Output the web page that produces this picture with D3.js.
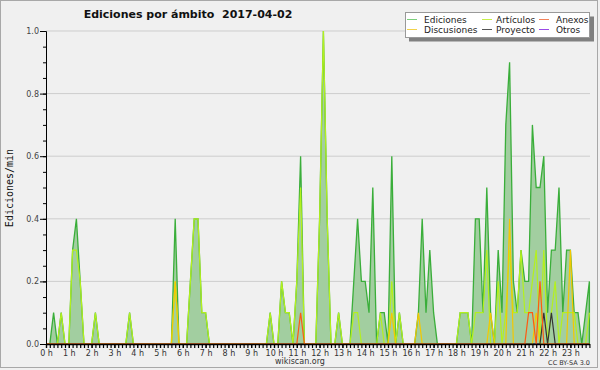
<!DOCTYPE html>
<html>
<head>
<meta charset="utf-8">
<script src="https://cdn.jsdelivr.net/npm/d3@7"></script>
<style>
  body { margin: 0; background: #f0f0f0; }
  svg { display: block; font-family: 'DejaVu Sans', sans-serif; }
</style>
</head>
<body>
<svg id="chart" width="600" height="370"></svg>
<script>
// one row per hour, six 10-minute bins each (edits/min)
const ediciones = [
  [0, 0, .1, 0, .1, 0], [0, .3, .4, .2, 0, 0], [0, .1, 0, 0, 0, 0], [0, 0, 0, 0, .1, 0],
  [0, 0, 0, 0, 0, 0], [0, 0, 0, 0, .4, 0], [0, 0, .2, .4, .4, .1], [.1, 0, 0, 0, 0, 0],
  [0, 0, 0, 0, 0, 0], [0, 0, 0, 0, 0, .1], [0, 0, .2, .1, .1, 0], [.2, .6, 0, 0, 0, 0],
  [.4, 1, .4, 0, 0, .1], [0, 0, 0, .2, .4, .2], [.2, .1, .5, 0, .1, .1], [0, .6, 0, .1, 0, 0],
  [0, 0, .1, .4, .1, .3], [.1, 0, 0, 0, 0, 0], [0, .1, .1, .1, 0, .4], [.4, .1, .5, .1, 0, .3],
  [.1, .7, .9, .2, .1, .3], [.2, .2, .7, .5, .5, .6], [.1, .3, .3, .5, .1, .3], [.3, .1, .1, 0, .1, .2]
].flat();

const articulos = [
  [0, 0, 0, 0, .1, 0], [0, .3, .3, .2, 0, 0], [0, .1, 0, 0, 0, 0], [0, 0, 0, 0, .1, 0],
  [0, 0, 0, 0, 0, 0], [0, 0, 0, 0, .2, 0], [0, 0, .2, .4, .4, .1], [.1, 0, 0, 0, 0, 0],
  [0, 0, 0, 0, 0, 0], [0, 0, 0, 0, 0, .1], [0, 0, .2, .1, .1, 0], [.2, .5, 0, 0, 0, 0],
  [.4, 1, .4, 0, 0, .1], [0, 0, 0, .1, .1, 0], [0, 0, 0, 0, .1, 0], [0, .2, 0, .1, 0, 0],
  [0, 0, 0, 0, 0, 0], [0, 0, 0, 0, 0, 0], [0, .1, .1, .1, 0, .1], [.1, .1, .3, 0, 0, .2],
  [0, .1, .3, .1, .1, .3], [.1, .1, .2, .3, 0, .3], [0, .1, .2, 0, .1, .1], [.1, .1, 0, 0, 0, .1]
].flat();

const discusiones = [
  [0, 0, 0, 0, 0, 0], [0, 0, 0, 0, 0, 0], [0, 0, 0, 0, 0, 0], [0, 0, 0, 0, 0, 0],
  [0, 0, 0, 0, 0, 0], [0, 0, 0, 0, .2, 0], [0, 0, 0, 0, 0, 0], [0, 0, 0, 0, 0, 0],
  [0, 0, 0, 0, 0, 0], [0, 0, 0, 0, 0, 0], [0, 0, 0, 0, 0, 0], [0, 0, 0, 0, 0, 0],
  [0, 0, 0, 0, 0, 0], [0, 0, 0, 0, 0, 0], [0, 0, 0, 0, 0, 0], [0, .1, 0, 0, 0, 0],
  [0, 0, .1, 0, 0, 0], [0, 0, 0, 0, 0, 0], [0, 0, 0, 0, 0, 0], [0, 0, 0, .1, 0, 0],
  [0, 0, .4, 0, 0, 0], [0, 0, 0, .1, 0, 0], [0, 0, 0, 0, 0, 0], [.3, 0, 0, 0, 0, 0]
].flat();

const anexos = [
  [0, 0, 0, 0, 0, 0], [0, 0, 0, 0, 0, 0], [0, 0, 0, 0, 0, 0], [0, 0, 0, 0, 0, 0],
  [0, 0, 0, 0, 0, 0], [0, 0, 0, 0, 0, 0], [0, 0, 0, 0, 0, 0], [0, 0, 0, 0, 0, 0],
  [0, 0, 0, 0, 0, 0], [0, 0, 0, 0, 0, 0], [0, 0, 0, 0, 0, 0], [0, .1, 0, 0, 0, 0],
  [0, 0, 0, 0, 0, 0], [0, 0, 0, 0, 0, 0], [0, 0, 0, 0, 0, 0], [0, 0, 0, 0, 0, 0],
  [0, 0, 0, 0, 0, 0], [0, 0, 0, 0, 0, 0], [0, 0, 0, 0, 0, 0], [0, 0, 0, 0, 0, 0],
  [0, 0, 0, 0, 0, 0], [0, .1, .1, 0, .2, 0], [0, 0, 0, 0, 0, 0], [0, 0, 0, 0, 0, 0]
].flat();

const proyecto = [
  [0, 0, 0, 0, 0, 0], [0, 0, 0, 0, 0, 0], [0, 0, 0, 0, 0, 0], [0, 0, 0, 0, 0, 0],
  [0, 0, 0, 0, 0, 0], [0, 0, 0, 0, 0, 0], [0, 0, 0, 0, 0, 0], [0, 0, 0, 0, 0, 0],
  [0, 0, 0, 0, 0, 0], [0, 0, 0, 0, 0, 0], [0, 0, 0, 0, 0, 0], [0, 0, 0, 0, 0, 0],
  [0, 0, 0, 0, 0, 0], [0, 0, 0, 0, 0, 0], [0, 0, 0, 0, 0, 0], [0, 0, 0, 0, 0, 0],
  [0, 0, 0, 0, 0, 0], [0, 0, 0, 0, 0, 0], [0, 0, 0, 0, 0, 0], [0, 0, 0, 0, 0, 0],
  [0, 0, 0, 0, 0, 0], [0, 0, 0, 0, 0, .1], [0, .1, 0, 0, 0, 0], [0, 0, 0, 0, 0, 0]
].flat();

const otros = d3.range(144).map(() => 0);

const hourLabels = d3.range(24).map(h => h + ' h');
const yTicks = [0, 0.2, 0.4, 0.6, 0.8, 1.0];

const legendItems = [
  { name: 'Ediciones', color: '#7ccf7c' },
  { name: 'Discusiones', color: '#f2d24a' },
  { name: 'Artículos', color: '#c6ee4a' },
  { name: 'Proyecto', color: '#555555' },
  { name: 'Anexos', color: '#f2825a' },
  { name: 'Otros', color: '#9a4ae6' }
];

const svg = d3.select('#chart');
const margin = { top: 31, right: 10, bottom: 26, left: 46 };
const height = 370 - margin.top - margin.bottom;

// x in 10-minute bins
const x = d3.scaleLinear().domain([0, 144]).range([margin.left, margin.left + 144 * 3.8]);
const y = d3.scaleLinear().domain([0, 1]).range([margin.top + height, margin.top]);

// frame
svg.append('rect').attr('x', 0.5).attr('y', 0.5).attr('width', 597).attr('height', 367)
  .attr('fill', '#f0f0f0').attr('stroke', '#a8a8a8');

// grid
svg.append('g').selectAll('line').data(yTicks.slice(1)).join('line')
  .attr('x1', x(0)).attr('x2', 590)
  .attr('y1', d => y(d)).attr('y2', d => y(d))
  .attr('stroke', '#cdcdcd').attr('stroke-width', 1);

// total area
const bins = d3.range(144);
svg.append('path')
  .datum(bins)
  .attr('fill', '#a2cea0')
  .attr('stroke', '#3aae3a')
  .attr('stroke-width', 1.3)
  .attr('d', d3.area().x(i => x(i)).y0(y(0)).y1(i => y(ediciones[i])));

const line = series => d3.line().x(i => x(i)).y(i => y(series[i]))(bins);

const lines = [
  { data: otros, color: '#9a3ae6' },
  { data: articulos, color: '#b4f01e' },
  { data: discusiones, color: '#f5c800' },
  { data: proyecto, color: '#333333' },
  { data: anexos, color: '#ff5a10' }
];
svg.append('g').selectAll('path').data(lines).join('path')
  .attr('fill', 'none')
  .attr('stroke', d => d.color)
  .attr('stroke-width', 1.2)
  .attr('d', d => line(d.data));

// y axis
const yAxis = svg.append('g').attr('transform', 'translate(' + margin.left + ',0)');
yAxis.call(d3.axisLeft(y).tickValues(d3.range(0, 1.001, 0.05)).tickSize(3).tickFormat('').tickSizeOuter(0));
yAxis.call(g => g.append('g').call(d3.axisLeft(y).tickValues(yTicks).tickSize(6).tickPadding(1)
  .tickFormat(d3.format('.1f')).tickSizeOuter(0)));
yAxis.selectAll('path.domain').attr('stroke', '#000');
yAxis.selectAll('line').attr('stroke', '#000');
yAxis.selectAll('text').attr('font-size', 8).attr('fill', '#444').attr('font-family', 'DejaVu Sans');

// x axis
const xAxis = svg.append('g').attr('transform', 'translate(0,' + y(0) + ')');
xAxis.call(d3.axisBottom(x).tickValues(bins).tickSize(4).tickFormat('').tickSizeOuter(0));
xAxis.select('path.domain').attr('d', 'M' + x(0) + ',0.5H590');
xAxis.call(g => g.append('g').call(d3.axisBottom(x).tickValues(d3.range(0, 144, 6)).tickSize(4).tickPadding(2)
  .tickFormat((d, i) => hourLabels[i]).tickSizeOuter(0)));
xAxis.selectAll('g > path.domain').filter((d, i) => i > 0).remove();
xAxis.selectAll('line').attr('stroke', '#000').attr('stroke-width', 1.2);
xAxis.selectAll('path.domain').attr('stroke', '#000').attr('stroke-width', 1.5);
xAxis.selectAll('text').attr('font-size', 8).attr('fill', '#333').attr('font-family', 'DejaVu Sans');

// titles
svg.append('text').attr('x', 188).attr('y', 18).attr('text-anchor', 'middle')
  .attr('font-size', 11).attr('font-weight', 'bold').attr('fill', '#111')
  .attr('xml:space', 'preserve')
  .text('Ediciones por ámbito  2017-04-02');

svg.append('text').attr('transform', 'translate(13,188) rotate(-90)').attr('text-anchor', 'middle')
  .attr('font-family', 'DejaVu Sans Mono').attr('font-size', 10).attr('fill', '#111')
  .text('Ediciones/min');

svg.append('text').attr('x', 300).attr('y', 364).attr('text-anchor', 'middle')
  .attr('font-size', 8).attr('fill', '#333').text('wikiscan.org');

svg.append('text').attr('x', 590).attr('y', 365).attr('text-anchor', 'end')
  .attr('font-size', 6.5).attr('fill', '#333').text('CC BY-SA 3.0');

// legend
const lg = svg.append('g');
lg.append('rect').attr('x', 409).attr('y', 16.5).attr('width', 185).attr('height', 25).attr('fill', '#808080');
lg.append('rect').attr('x', 405.5).attr('y', 12.5).attr('width', 184).attr('height', 25)
  .attr('fill', '#fff').attr('stroke', '#999');
const colX = [407, 482, 539];
const rowY = [19.5, 29.5];
const entry = lg.selectAll('g.item').data(legendItems).join('g')
  .attr('transform', (d, i) => 'translate(' + colX[Math.floor(i / 2)] + ',' + rowY[i % 2] + ')');
entry.append('line').attr('x1', 0).attr('x2', 10).attr('stroke', d => d.color).attr('stroke-width', 1);
entry.append('text').attr('x', d => d.name === 'Anexos' || d.name === 'Otros' ? 17 : (d.name === 'Artículos' || d.name === 'Proyecto' ? 14 : 17))
  .attr('y', 3.2).attr('font-size', 9).attr('fill', '#222').text(d => d.name);
</script>
</body>
</html>
